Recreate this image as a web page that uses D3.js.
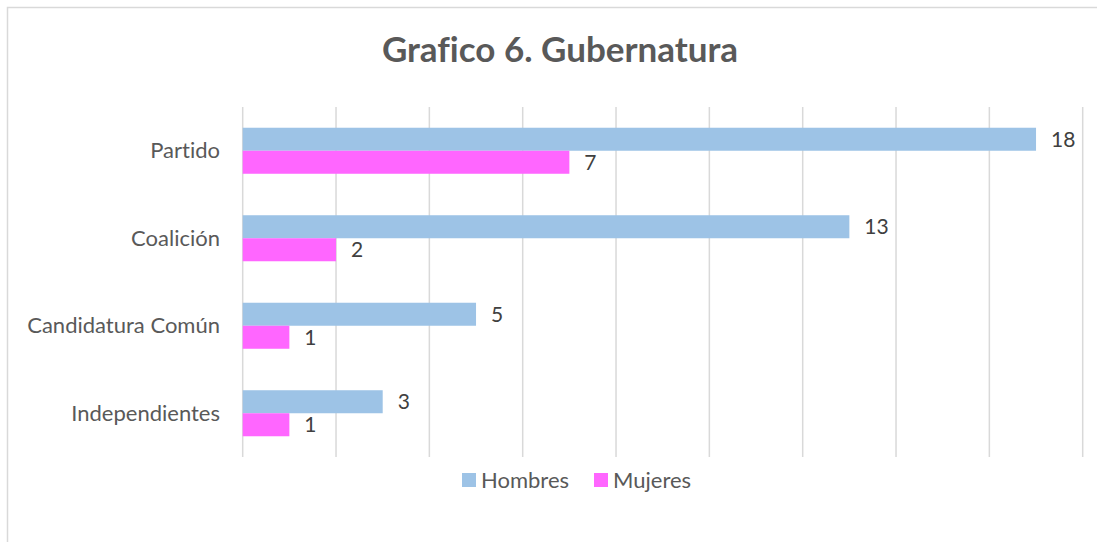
<!DOCTYPE html>
<html>
<head>
<meta charset="utf-8">
<script src="https://cdn.jsdelivr.net/npm/d3@7"></script>
<style>
  html, body { margin: 0; padding: 0; background: #fff; }
  svg { display: block; }
  text { font-variant-ligatures: none; font-feature-settings: "liga" 0, "clig" 0; }
</style>
</head>
<body>
<svg id="chart" width="1097" height="542"></svg>
<script>
const categories = ["Partido", "Coalición", "Candidatura Común", "Independientes"];
const seriesNames = ["Hombres", "Mujeres"];
const hombres = [17, 13, 5, 3];
const mujeres = [7, 2, 1, 1];
const hombresLabels = ["18", "13", "5", "3"];
const mujeresLabels = ["7", "2", "1", "1"];
const xTicks = [0, 2, 4, 6, 8, 10, 12, 14, 16, 18];
const title = "Grafico 6. Gubernatura";

const colors = { Hombres: "#9dc3e6", Mujeres: "#ff66ff" };
const font = "Lato, 'Liberation Sans', sans-serif";

const svg = d3.select("#chart");

// outer chart border
svg.append("rect")
  .attr("x", 7.5).attr("y", 7.5)
  .attr("width", 1200).attr("height", 600)
  .attr("fill", "#fff")
  .attr("stroke", "#d9d9d9").attr("stroke-width", 1.5);

const x = d3.scaleLinear().domain([0, 18]).range([242.7, 1082.7]);
const y = d3.scaleBand().domain(categories).range([107, 457])
  .paddingInner(0.474).paddingOuter(0.237);
const ySub = d3.scaleBand().domain(seriesNames).range([0, y.bandwidth()]);

// gridlines
svg.append("g").selectAll("line").data(xTicks).join("line")
  .attr("x1", d => x(d)).attr("x2", d => x(d))
  .attr("y1", 107).attr("y2", 457)
  .attr("stroke", "#d9d9d9").attr("stroke-width", 1.5);

// title
svg.append("text")
  .attr("x", 560).attr("y", 62)
  .attr("text-anchor", "middle")
  .attr("font-family", font).attr("font-weight", "bold")
  .attr("font-size", 35).attr("fill", "#595959")
  .text(title);

// category labels
svg.append("g").selectAll("text").data(categories).join("text")
  .attr("x", 220)
  .attr("y", d => y(d) + y.bandwidth() / 2)
  .attr("dy", "0.35em")
  .attr("text-anchor", "end")
  .attr("font-family", font).attr("font-size", 22)
  .attr("fill", "#595959")
  .text(d => d);

const rows = categories.map((c, i) => ({
  cat: c,
  vals: [
    { s: "Hombres", v: hombres[i], lbl: hombresLabels[i] },
    { s: "Mujeres", v: mujeres[i], lbl: mujeresLabels[i] }
  ]
}));

const groups = svg.append("g").selectAll("g").data(rows).join("g")
  .attr("transform", d => `translate(0,${y(d.cat)})`);

groups.selectAll("rect").data(d => d.vals).join("rect")
  .attr("x", x(0))
  .attr("y", d => ySub(d.s))
  .attr("width", d => x(d.v) - x(0))
  .attr("height", ySub.bandwidth())
  .attr("fill", d => colors[d.s]);

groups.selectAll("text").data(d => d.vals).join("text")
  .attr("x", d => x(d.v) + 15)
  .attr("y", d => ySub(d.s) + ySub.bandwidth() / 2)
  .attr("dy", "0.35em")
  .attr("font-family", font).attr("font-size", 21)
  .attr("fill", "#404040")
  .text(d => d.lbl);

// legend
const legendItems = [
  { s: "Hombres", x: 462 },
  { s: "Mujeres", x: 594 }
];
const lg = svg.append("g").selectAll("g").data(legendItems).join("g")
  .attr("transform", d => `translate(${d.x},473)`);
lg.append("rect").attr("width", 14).attr("height", 14)
  .attr("fill", d => colors[d.s]);
lg.append("text")
  .attr("x", 19).attr("y", 7).attr("dy", "0.35em")
  .attr("font-family", font).attr("font-size", 22)
  .attr("fill", "#595959")
  .text(d => d.s);
</script>
</body>
</html>
